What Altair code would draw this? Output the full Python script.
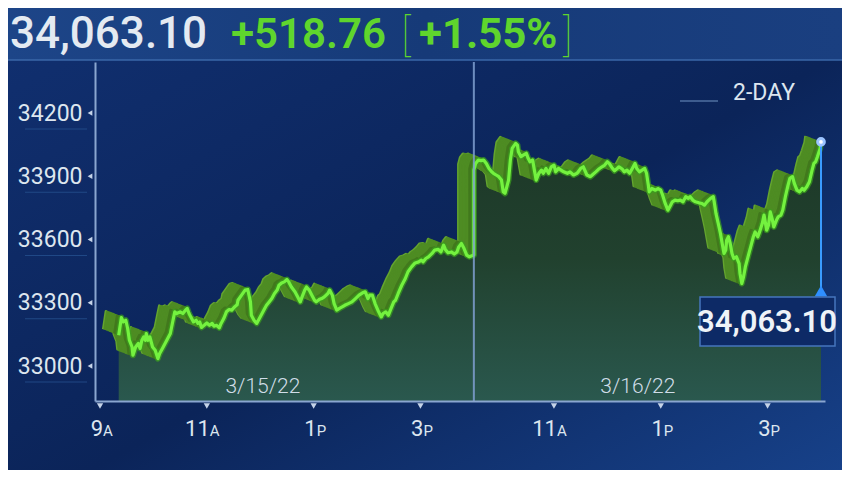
import altair as alt
import pandas as pd

# ---------------- data ----------------
# minutes after 9:00 on 3/15/22
d1_min = [21,24,26,29,31,33,36,37,40,43,45,47,49,51,52,54,56,59,62,65,
          67,71,75,79,82,84,86,90,93,96,98,100,102,105,108,110,112,114,117,120,
          123,126,128,131,134,136,139,142,145,148,151,154,155,159,163,166,169,170,173,176,
          179,182,185,187,190,193,196,199,201,204,207,210,212,215,219,222,225,227,230,232,
          235,238,241,243,246,249,252,256,258,261,263,266,269,272,275,279,283,287,291,295,
          298,301,303,306,309,313,316,318,321,324,327,330,332,335,339,343,346,350,354,358,
          361,363,366,369,373,376,380,383,386,388,391,395,398,401,403,406,409,412,415,420]
d1_val = [33146,33230,33209,33217,33179,33122,33090,33051,33090,33107,
          33083,33122,33138,33122,33154,33122,33138,33090,33075,33035,
          33059,33090,33122,33154,33217,33257,33249,33257,33249,33265,
          33273,33249,33233,33209,33217,33202,33209,33183,33193,33204,
          33193,33202,33189,33193,33181,33202,33225,33257,33268,33265,
          33280,33290,33312,33336,33360,33363,33304,33241,33217,33202,
          33225,33249,33273,33288,33304,33320,33344,33360,33383,33394,
          33399,33410,33399,33375,33352,33328,33304,33328,33360,33375,
          33360,33336,33312,33304,33315,33320,33328,33344,33360,33336,
          33296,33265,33273,33280,33288,33296,33304,33320,33336,33347,
          33352,33320,33336,33336,33296,33257,33233,33249,33257,33241,
          33273,33304,33312,33344,33383,33415,33447,33470,33489,33494,
          33502,33494,33510,33518,33534,33550,33553,33541,33573,33553,
          33537,33541,33531,33541,33565,33581,33557,33526,33518,33526]
# minutes after 9:30 on 3/16/22
d2_min = [0,2,5,8,11,14,17,20,22,25,28,31,33,35,37,39,41,43,47,49,
          50,53,56,59,61,63,66,68,70,73,76,78,81,84,87,90,92,95,98,101,
          105,108,112,116,120,123,127,131,133,137,140,144,147,150,152,155,158,161,163,167,
          169,172,175,178,181,183,186,189,192,194,196,197,200,204,207,210,212,215,218,221,
          223,226,229,232,235,238,241,243,246,249,253,256,259,262,266,269,270,272,275,277,
          279,281,283,284,286,288,290,292,295,298,299,301,303,305,308,311,314,316,319,321,
          324,326,327,329,331,333,335,337,340,342,345,347,350,353,355,358,360,363,366,369,
          371,374,377,380,382,384,386,389,390]
d2_val = [33929,33961,33977,33974,33977,33961,33937,33921,33914,33906,
          33898,33882,33826,33819,33850,33882,33977,34032,34056,34048,
          34016,33993,34001,34009,33985,33969,33977,33929,33882,33914,
          33929,33914,33937,33914,33945,33953,33921,33937,33929,33921,
          33914,33921,33906,33914,33937,33945,33906,33898,33906,33921,
          33933,33945,33953,33969,33961,33942,33926,33937,33945,33933,
          33921,33929,33914,33937,33961,33937,33921,33929,33937,33914,
          33858,33826,33842,33834,33842,33834,33811,33771,33739,33763,
          33779,33787,33784,33787,33779,33803,33795,33803,33787,33779,
          33774,33771,33763,33779,33795,33803,33779,33724,33668,33629,
          33581,33534,33550,33597,33613,33581,33534,33510,33518,33486,
          33439,33391,33423,33470,33518,33565,33613,33636,33613,33636,
          33676,33716,33692,33644,33668,33731,33700,33660,33692,33708,
          33716,33739,33803,33858,33890,33898,33866,33834,33826,33842,
          33834,33850,33874,33929,33961,33969,33993,34032,34063.10]

change = 518.76
pct = 1.55
y_ticks = [33000, 33300, 33600, 33900, 34200]
x_tick_t = [0, 2, 4, 6, 8.5, 10.5, 12.5]
x_tick_num = ["9", "11", "1", "3", "11", "1", "3"]
x_tick_suf = ["A", "A", "P", "P", "A", "P", "P"]
date_t = [3.05, 10.07]
date_lbl = ["3/15/22", "3/16/22"]
day_break_t = [7.0]
y_floor = 32834

# ---------------- build table ----------------
rows = []
i = 0
for m, v in zip(d1_min, d1_val):
    rows.append({"i": i, "t": m / 60.0, "v": v}); i += 1
for m, v in zip(d2_min, d2_val):
    rows.append({"i": i, "t": 7.0 + m / 60.0, "v": v}); i += 1
df = pd.DataFrame(rows)
df["floor"] = y_floor
last = df.iloc[[-1]].copy()
last["lbl"] = f"{last['v'].iloc[0]:,.2f}"

W, H = 730, 339
FONT = "Roboto"
xs = alt.Scale(domain=[-0.094, 13.575], nice=False, zero=False)
ys = alt.Scale(domain=[y_floor, 34442], nice=False, zero=False)
one = pd.DataFrame({"a": [0]})

def grad(stops, x1=0, y1=0, x2=0, y2=1):
    return alt.Gradient(gradient="linear",
                        stops=[alt.GradientStop(color=c, offset=o) for o, c in stops],
                        x1=x1, y1=y1, x2=x2, y2=y2)

bg = alt.Chart(one).mark_rect(
    fill=grad([(0, "#113071"), (0.55, "#0b2459"), (1, "#174189")], 0, 0, 1, 1)
).encode(x=alt.value(-87), x2=alt.value(747), y=alt.value(-54), y2=alt.value(408))

header = alt.Chart(one).mark_rect(
    fill=grad([(0, "#1d4588"), (0.5, "#163a78"), (1, "#1a3f80")], 0, 0, 1, 0)
).encode(x=alt.value(-87), x2=alt.value(747), y=alt.value(-54), y2=alt.value(-2))
header_line = alt.Chart(one).mark_rule(color="#3a67a8", strokeWidth=1.5).encode(
    x=alt.value(-87), x2=alt.value(747), y=alt.value(-2))

def htext(s, x, size, weight, color, y=-14):
    return alt.Chart(pd.DataFrame({"s": [s]})).mark_text(
        align="left", baseline="alphabetic", font=FONT, fontSize=size,
        fontWeight=weight, color=color
    ).encode(x=alt.value(x), y=alt.value(y), text="s:N")

green = "#5fd52d"
h1 = htext(f"{d2_val[-1]:,.2f}", -85, 44, 500, "#e4eaf1")
h2 = htext(f"+{change:.2f}", 136, 42, 600, green)
h3 = htext("[", 306, 44, 100, green, -12)
h4 = htext(f"+{pct:.2f}%", 324, 42, 700, green)
h5 = htext("]", 468, 44, 100, green, -12)

base = alt.Chart(df)

area = base.mark_area(
    fill=grad([(0, "#1d3828"), (0.45, "#21412e"), (1, "#2a584e")]), opacity=1
).encode(
    x=alt.X("t:Q", scale=xs, axis=alt.Axis(values=x_tick_t, labels=False, ticks=False,
                                           grid=False, title=None, domainColor="#8aa6d0",
                                           domainWidth=2, zindex=2)),
    y=alt.Y("v:Q", scale=ys, stack=None,
            axis=alt.Axis(values=y_ticks, title=None, grid=False, ticks=False, format="d",
                          labelPadding=13, labelFontSize=23, labelFont=FONT,
                          labelColor="#dde6ef", domainColor="#8aa6d0",
                          domainWidth=2, zindex=2)),
    y2="floor:Q",
)

ribbon_layers = []
NK = 11
for k in range(NK, 0, -1):
    col = "#64a42f" if k == NK else ("#4e8c23" if k > 3 else "#42791d")
    ribbon_layers.append(
        base.mark_line(xOffset=-k * 1.4, yOffset=-k * 0.55, strokeWidth=2.8, color=col,
                       strokeJoin="round")
        .encode(x="t:Q", y="v:Q", order="i:Q")
    )

glow = base.mark_line(strokeWidth=6, color="#3b9f1e", opacity=0.7, strokeJoin="round").encode(
    x="t:Q", y="v:Q", order="i:Q")
line = base.mark_line(strokeWidth=3.2, color="#74f23f", strokeJoin="round").encode(
    x="t:Q", y="v:Q", order="i:Q")

divider = alt.Chart(pd.DataFrame({"t": day_break_t})).mark_rule(
    color="#7f9fd0", strokeWidth=2, opacity=0.85).encode(
    x="t:Q", y=alt.value(0), y2=alt.value(H))

ydf = pd.DataFrame({"v": y_ticks})
ytri = alt.Chart(ydf).mark_point(shape="triangle-left", filled=True, size=30,
                                 color="#c5d3e8", opacity=1).encode(y="v:Q", x=alt.value(-5))
yund = alt.Chart(ydf).mark_rule(color="#26508f", strokeWidth=1, yOffset=16, opacity=0.8).encode(
    y="v:Q", x=alt.value(-70), x2=alt.value(-8))

xdf = pd.DataFrame({"t": x_tick_t, "num": x_tick_num, "suf": x_tick_suf})
xtri = alt.Chart(xdf).mark_point(shape="triangle-down", filled=True, size=40,
                                 color="#c5d3e8", opacity=1).encode(x="t:Q", y=alt.value(H + 5))
xnum = alt.Chart(xdf).mark_text(align="right", baseline="alphabetic", dx=3, fontSize=22,
                                font=FONT, color="#dde6ef").encode(
    x="t:Q", y=alt.value(374), text="num:N")
xsuf = alt.Chart(xdf).mark_text(align="left", baseline="alphabetic", dx=3, fontSize=15,
                                font=FONT, color="#dde6ef").encode(
    x="t:Q", y=alt.value(374), text="suf:N")

dates = alt.Chart(pd.DataFrame({"t": date_t, "d": date_lbl})).mark_text(
    fontSize=21, fontWeight=300, font=FONT, color="#d0dde8", baseline="middle"
).encode(x="t:Q", y=alt.value(325), text="d:N")

end_rule = alt.Chart(last).mark_rule(color="#3a9cff", strokeWidth=2).encode(
    x="t:Q", y="v:Q", y2=alt.value(226))
end_tri = alt.Chart(last).mark_point(shape="triangle-up", filled=True, size=160,
                                     color="#2f8fff", opacity=1).encode(
    x="t:Q", y=alt.value(229))
end_dot = alt.Chart(last).mark_point(shape="circle", filled=True, size=45, color="#ffffff",
                                     stroke="#9cc4ff", strokeWidth=3, opacity=1).encode(
    x="t:Q", y="v:Q")
box = alt.Chart(one).mark_rect(fill="#0d2a66", stroke="#4676bd", strokeWidth=1.5).encode(
    x=alt.value(605), x2=alt.value(740), y=alt.value(235), y2=alt.value(284))
box_txt = alt.Chart(last).mark_text(fontSize=31, fontWeight=600, font=FONT, color="#eef3f8",
                                    baseline="middle").encode(
    x=alt.value(672), y=alt.value(261), text="lbl:N")

twoday = alt.Chart(pd.DataFrame({"s": ["2-DAY"]})).mark_text(
    fontSize=23, font=FONT, color="#dde6ef", baseline="middle").encode(
    x=alt.value(669), y=alt.value(31), text="s:N")
twoday_line = alt.Chart(one).mark_rule(color="#4f6fa0", strokeWidth=1.5).encode(
    x=alt.value(585), x2=alt.value(623), y=alt.value(39))

chart = alt.layer(
    bg, header, header_line, h1, h2, h3, h4, h5,
    area, *ribbon_layers, glow, line, divider,
    yund, ytri, xtri, xnum, xsuf, dates,
    end_rule, end_tri, end_dot, box, box_txt, twoday, twoday_line,
).properties(
    width=W, height=H,
    autosize=alt.AutoSizeParams(type="none"),
    padding={"left": 87, "top": 54, "right": 17, "bottom": 69},
    background="#0c2660",
).configure_view(stroke=None)

chart.save("out.html", embed_options={"renderer": "svg", "actions": False})
